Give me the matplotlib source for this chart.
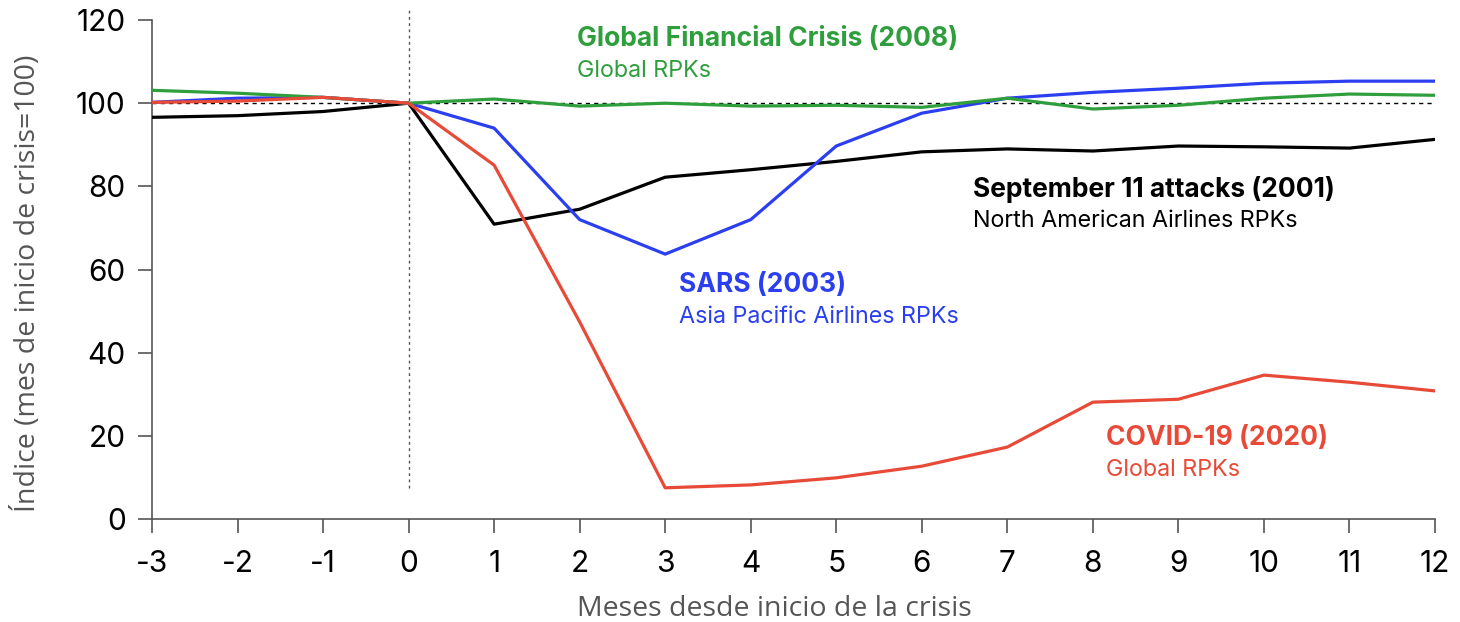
import matplotlib
matplotlib.use("Agg")
import matplotlib.pyplot as plt

plt.rcParams["axes.unicode_minus"] = False

# meses desde el inicio de la crisis
meses = list(range(-3, 13))

# índices (mes de inicio = 100)
sept11 = [96.6, 97.0, 98.0, 100, 70.9, 74.5, 82.2, 84.0, 86.0, 88.3, 89.0, 88.5, 89.7, 89.5, 89.2, 91.3]
sars = [100.2, 101.2, 101.4, 100, 94.0, 72.0, 63.7, 72.0, 89.7, 97.6, 101.2, 102.6, 103.6, 104.8, 105.3, 105.3]
gfc = [103.1, 102.4, 101.4, 100, 101.0, 99.3, 100.0, 99.3, 99.5, 99.0, 101.2, 98.6, 99.5, 101.2, 102.2, 101.9]
covid = [100.2, 100.5, 101.4, 100, 85.1, 47.4, 7.5, 8.2, 9.9, 12.7, 17.3, 28.1, 28.8, 34.6, 32.9, 30.8]

VERDE = "#2f9e3c"
AZUL = "#2b3ff0"
ROJO = "#e84a38"
GRIS = "#555555"

fig = plt.figure(figsize=(14.6, 6.22), dpi=100)
ax = fig.add_axes([0.1041, 0.1656, 0.8788, 0.8022])

ax.axhline(100, color="black", lw=1, ls=(0, (3, 3)), zorder=1)
ax.plot([0, 0], [7.5, 122.5], color="#555555", lw=1, ls=(0, (2, 2.5)), clip_on=False, zorder=1)

ax.plot(meses, sept11, color="black", lw=2.3, zorder=3)
ax.plot(meses, sars, color=AZUL, lw=2.3, zorder=3)
ax.plot(meses, gfc, color=VERDE, lw=2.3, zorder=4)
ax.plot(meses, covid, color=ROJO, lw=2.3, zorder=5)

ax.set_xlim(-3, 12)
ax.set_ylim(0, 120)
ax.set_xticks(meses)
ax.set_yticks(range(0, 121, 20))

for s in ["top", "right"]:
    ax.spines[s].set_visible(False)
for s in ["left", "bottom"]:
    ax.spines[s].set_color(GRIS)
    ax.spines[s].set_linewidth(1.2)
ax.tick_params(length=10, width=1.2, color=GRIS, labelsize=21.5,
               labelfontfamily="Inter")
ax.tick_params(axis="x", pad=12)
ax.tick_params(axis="y", pad=9)

ax.set_xlabel("Meses desde inicio de la crisis", family="Open Sans", fontsize=20.5,
              color=GRIS)
ax.set_ylabel("Índice (mes de inicio de crisis=100)", family="Open Sans", fontsize=20.5,
              color=GRIS)
ax.xaxis.set_label_coords(0.485, -0.152)
ax.yaxis.set_label_coords(-0.086, 0.473)

# etiquetas de cada serie
etiquetas = [
    (1.97, 115.5, "Global Financial Crisis (2008)", "Global RPKs", VERDE),
    (3.16, 56.3, "SARS (2003)", "Asia Pacific Airlines RPKs", AZUL),
    (6.6, 79.3, "September 11 attacks (2001)", "North American Airlines RPKs", "black"),
    (8.15, 19.5, "COVID-19 (2020)", "Global RPKs", ROJO),
]
for x, y, titulo, sub, c in etiquetas:
    ax.text(x, y, titulo, color=c, fontsize=19, fontweight="bold",
            family="Inter", va="center", ha="left")
    ax.text(x, y - 7.7, sub, color=c, fontsize=16.8,
            family="Inter", va="center", ha="left")

fig.savefig("out.png", dpi=100)
